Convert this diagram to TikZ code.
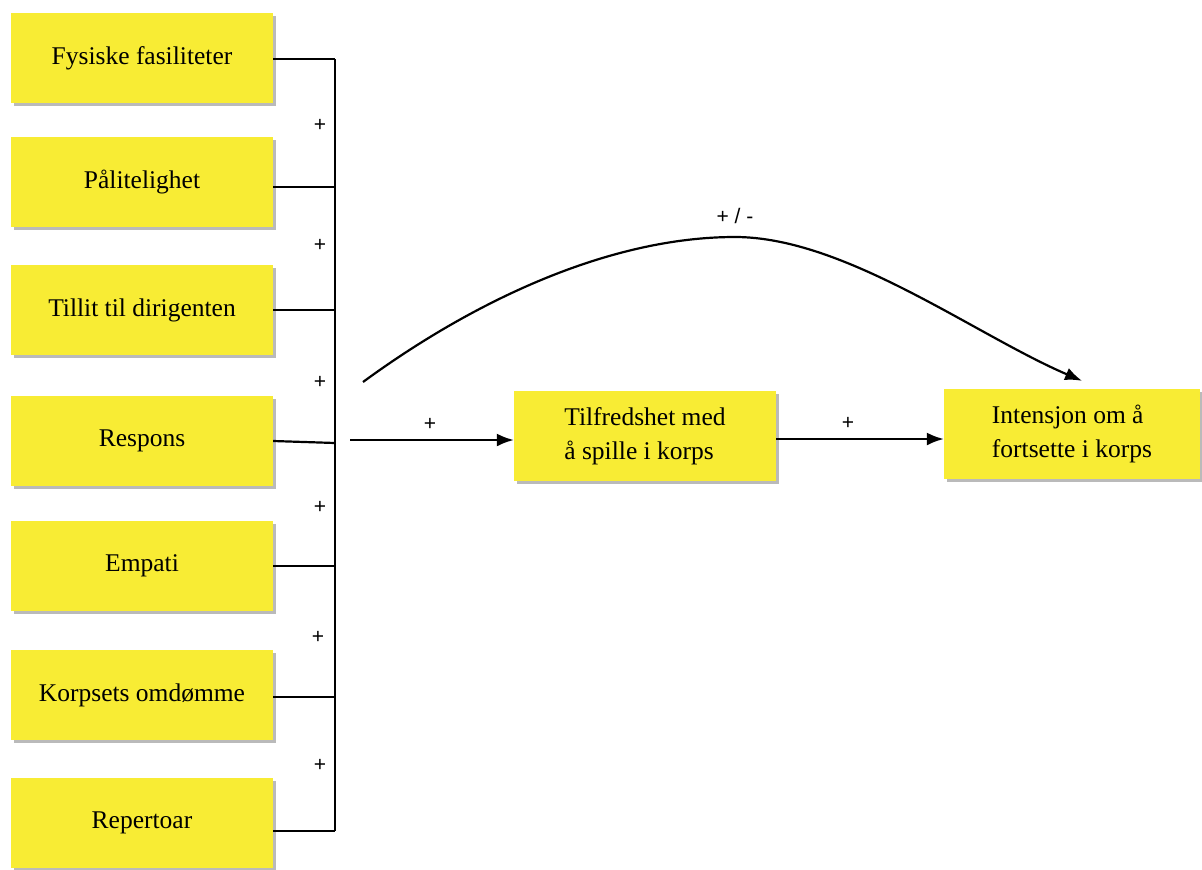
\documentclass[tikz,border=0pt]{standalone}
\usepackage{fontspec}
\setmainfont{Liberation Serif}
\newfontfamily\signfont{Liberation Sans}
\usetikzlibrary{arrows.meta,shadows,calc}
\definecolor{boxyellow}{RGB}{248,236,52}
\begin{document}
\begin{tikzpicture}[x=1pt,y=-1pt,
  factor/.style={fill=boxyellow, minimum width=262pt, minimum height=90pt,
    inner sep=0pt, font=\fontsize{25.5}{34}\selectfont,
    drop shadow={shadow xshift=2.5pt, shadow yshift=-2.5pt, opacity=0.45, fill=black!60}},
  wire/.style={line width=2.2pt, black},
  flow/.style={line width=2.2pt, black, -{Latex[length=17pt,width=13pt]}},
  sign/.style={font=\signfont\fontsize{21}{21}\selectfont, inner sep=0pt}]
\useasboundingbox (0,0) rectangle (1202,870);
\fill[white] (0,0) rectangle (1202,870);

% input factors
\node[factor] (b1) at (142,58)  {Fysiske fasiliteter};
\node[factor] (b2) at (142,182) {Pålitelighet};
\node[factor] (b3) at (142,310) {Tillit til dirigenten};
\node[factor] (b4) at (142,441) {Respons};
\node[factor] (b5) at (142,566) {Empati};
\node[factor] (b6) at (142,695) {Korpsets omdømme};
\node[factor] (b7) at (142,823) {Repertoar};

% outcome boxes
\node[factor, align=left] (sat) at (645,436) {Tilfredshet med\\å spille i korps};
\node[factor, align=left, minimum width=256pt] (int) at (1072,434) {Intensjon om å\\fortsette i korps};

% collecting bus
\coordinate (bustop) at (335,59);
\coordinate (busbot) at (335,831);
\draw[wire] (bustop) -- (busbot);
\draw[wire] ([yshift=-1pt]b1.east) -- (bustop);
\draw[wire] ([yshift=-5pt]b2.east) -- ([yshift=-5pt]b2.east -| bustop);
\draw[wire] (b3.east) -- (b3.east -| bustop);
\draw[wire] (b4.east) -- ([yshift=-2pt]b4.east -| bustop);
\draw[wire] (b5.east) -- (b5.east -| bustop);
\draw[wire] ([yshift=-2pt]b6.east) -- ([yshift=-2pt]b6.east -| bustop);
\draw[wire] ([yshift=-8pt]b7.east) -- (busbot);

% signs along the bus
\node[sign] (p1) at (320,125) {+};
\node[sign] (p2) at (320,245) {+};
\node[sign] (p3) at (320,382) {+};
\node[sign] (p4) at (320,507) {+};
\node[sign] (p5) at (318,637) {+};
\node[sign] (p6) at (320,765) {+};

% main paths
\coordinate (src) at (350,440);
\draw[flow] (src) -- (src -| sat.west);
\node[sign] (ps) at (430,424) {+};
\draw[flow] (sat.east |- 0,439) -- (int.west |- 0,439);
\node[sign] (pi) at (848,423) {+};

% direct effect
\coordinate (cstart) at (363,382);
\coordinate (ctop) at (735,237);
\draw[flow] (cstart) .. controls (475,300) and (610,237) .. (ctop)
  .. controls (845,237) and (975,335) .. ([xshift=10pt,yshift=8pt]int.north);
\node[sign] (pm) at (735,216) {+ / -};
\end{tikzpicture}
\end{document}
